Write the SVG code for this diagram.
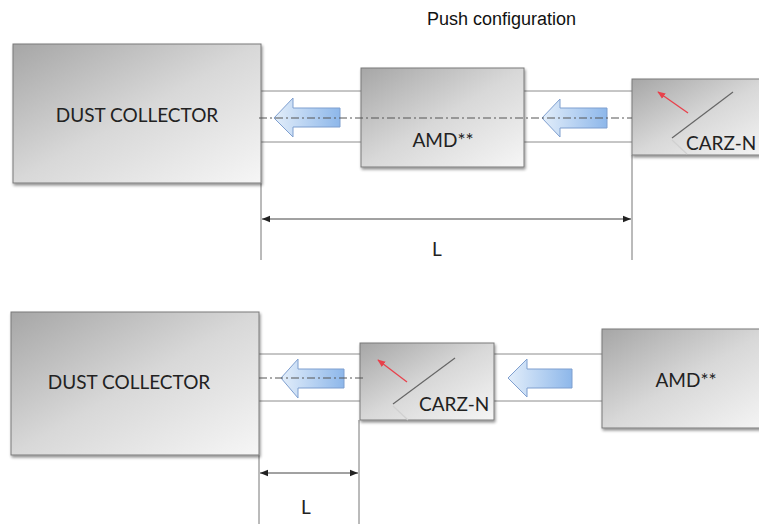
<svg xmlns="http://www.w3.org/2000/svg" width="759" height="524" viewBox="0 0 759 524">
<defs>
<linearGradient id="boxg" x1="0" y1="0" x2="1" y2="1">
<stop offset="0" stop-color="#a6a6a6"/>
<stop offset="0.5" stop-color="#d8d8d8"/>
<stop offset="1" stop-color="#f6f6f6"/>
</linearGradient>
<linearGradient id="blueg" x1="0" y1="0" x2="1" y2="0">
<stop offset="0" stop-color="#e3eefa"/>
<stop offset="1" stop-color="#8db7ea"/>
</linearGradient>
<filter id="sh" x="-5%" y="-5%" width="115%" height="120%">
<feGaussianBlur in="SourceAlpha" stdDeviation="1.5"/>
<feOffset dx="1" dy="2" result="b"/>
<feComponentTransfer><feFuncA type="linear" slope="0.45"/></feComponentTransfer>
<feMerge><feMergeNode/><feMergeNode in="SourceGraphic"/></feMerge>
</filter>
<marker id="dim" viewBox="0 0 10 10" refX="10" refY="5" markerWidth="8" markerHeight="8" markerUnits="userSpaceOnUse" orient="auto-start-reverse">
<path d="M0,1 L10,5 L0,9 z" fill="#222"/>
</marker>
<marker id="red" viewBox="0 0 10 10" refX="9" refY="5" markerWidth="8" markerHeight="8" markerUnits="userSpaceOnUse" orient="auto">
<path d="M0,1 L10,5 L0,9 z" fill="#e8414b"/>
</marker>
</defs>
<style>
.box{fill:url(#boxg);stroke:#7a7a7a;stroke-width:1;filter:url(#sh)}
.lbl{font-family:Lato,"Liberation Sans",sans-serif;font-size:19px;fill:#222}
.pipe{stroke:#8c8c8c;stroke-width:1;fill:none}
.cl{stroke:#555;stroke-width:1;stroke-dasharray:8 3 2 3;fill:none}
.flow{fill:url(#blueg);stroke:#7f9fcf;stroke-width:1}
.ext{stroke:#777;stroke-width:1;fill:none}
.dimln{stroke:#444;stroke-width:1;fill:none;marker-start:url(#dim);marker-end:url(#dim)}
.diag{stroke:#666;stroke-width:1.2}
.faint{stroke:#d0d0d0;stroke-width:1.2}
.redar{stroke:#e8414b;stroke-width:1.3;marker-end:url(#red)}
.title{font-family:"Liberation Sans",Arial,sans-serif;font-size:18px;fill:#111}
</style>
<rect width="759" height="524" fill="#fff"/>
<text class="title" x="427" y="25">Push configuration</text>

<g id="connectors">
<line class="pipe" x1="261" y1="91" x2="361" y2="91"/>
<line class="pipe" x1="261" y1="142" x2="361" y2="142"/>
<line class="pipe" x1="524" y1="91" x2="632" y2="91"/>
<line class="pipe" x1="524" y1="142" x2="632" y2="142"/>
<line class="pipe" x1="259" y1="354" x2="360" y2="354"/>
<line class="pipe" x1="259" y1="401" x2="360" y2="401"/>
<line class="pipe" x1="494" y1="354" x2="602" y2="354"/>
<line class="pipe" x1="494" y1="401" x2="602" y2="401"/>
<line class="ext" x1="261" y1="183" x2="261" y2="260"/>
<line class="ext" x1="632" y1="155" x2="632" y2="260"/>
<line class="dimln" x1="262" y1="219" x2="631" y2="219"/>
<line class="ext" x1="259" y1="455" x2="259" y2="524"/>
<line class="ext" x1="359" y1="420" x2="359" y2="524"/>
<line class="dimln" x1="260" y1="473" x2="358" y2="473"/>
</g>

<g id="dust-collector-top"><rect class="box" x="13" y="44" width="248" height="139"/><text class="lbl" x="137" y="122" text-anchor="middle">DUST COLLECTOR</text></g>
<g id="amd-top"><rect class="box" x="361" y="68" width="163" height="99"/><text class="lbl" x="443" y="147" text-anchor="middle">AMD**</text></g>
<g id="carz-top"><rect class="box" x="632" y="79" width="140" height="76"/>
<line class="faint" x1="672" y1="140" x2="687" y2="154"/>
<line class="diag" x1="672" y1="138" x2="733" y2="92"/>
<line class="redar" x1="688" y1="113" x2="658" y2="92"/>
<text class="lbl" x="686" y="150">CARZ-N</text></g>

<g id="dust-collector-bottom"><rect class="box" x="11" y="312" width="248" height="143"/><text class="lbl" x="129" y="389" text-anchor="middle">DUST COLLECTOR</text></g>
<g id="carz-bottom"><rect class="box" x="360" y="343" width="134" height="77"/>
<line class="faint" x1="393" y1="406" x2="408" y2="420"/>
<line class="diag" x1="393" y1="404" x2="455" y2="358"/>
<line class="redar" x1="407" y1="382" x2="378" y2="360"/>
<text class="lbl" x="419" y="411">CARZ-N</text></g>
<g id="amd-bottom"><rect class="box" x="602" y="329" width="170" height="99"/><text class="lbl" x="686" y="387" text-anchor="middle">AMD**</text></g>

<g id="flow-arrows">
<path class="flow" d="M274,118 L293,98 L293,108 L340,108 L340,127 L293,127 L293,137 Z"/>
<path class="flow" d="M542,118 L560,99 L560,108 L607,108 L607,128 L560,128 L560,137 Z"/>
<path class="flow" d="M281,378 L298,359 L298,369 L344,369 L344,388 L298,388 L298,398 Z"/>
<path class="flow" d="M508,378 L527,359 L527,369 L572,369 L572,388 L527,388 L527,397 Z"/>
</g>
<g id="centerlines">
<line class="cl" x1="259" y1="118" x2="632" y2="118"/>
<line class="cl" x1="259" y1="378" x2="365" y2="378"/>
</g>
<text class="lbl" x="437" y="256" text-anchor="middle">L</text>
<text class="lbl" x="306" y="514" text-anchor="middle">L</text>
</svg>
